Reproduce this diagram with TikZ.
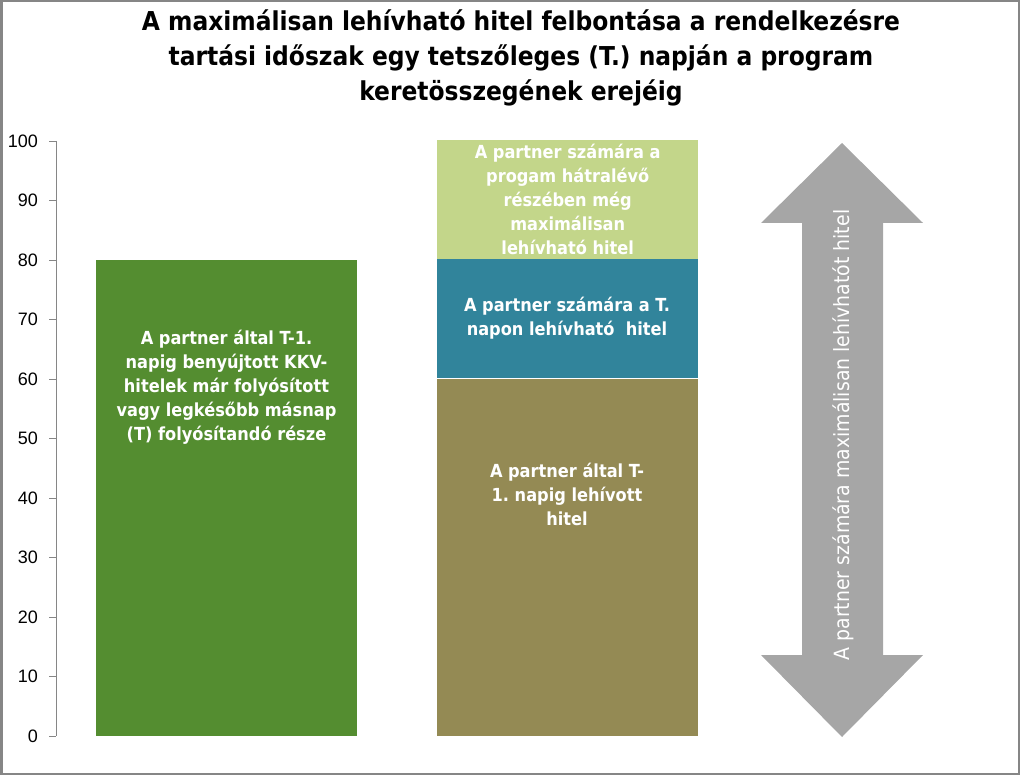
\documentclass[tikz,border=0pt]{standalone}
\usepackage{fontspec}
\setmainfont{DejaVu Sans Condensed}
\newfontfamily\axisfont{Liberation Sans}
\usetikzlibrary{positioning}
\frenchspacing

\definecolor{barGreen}{RGB}{84,141,48}
\definecolor{barLight}{RGB}{195,214,138}
\definecolor{barTeal}{RGB}{49,132,155}
\definecolor{barOlive}{RGB}{148,138,84}
\definecolor{arrowGray}{RGB}{166,166,166}
\definecolor{frameGray}{RGB}{134,134,134}

\begin{document}
\begin{tikzpicture}[x = 1pt, y = -1pt,
        bar/.style = {inner sep = 0, minimum width = 261pt, anchor = south west},
        barlabel/.style = {inner sep = 0, text = white, align = center,
            font = \bfseries\fontsize{18}{24}\selectfont}]
        \useasboundingbox (0,0) rectangle (1020,775);

        \draw [frameGray, line width = 2.5pt]
        (1.25,1.25) rectangle (1018.75,773.75);

        % title
        \node (title) [align = center, font = \bfseries\fontsize{26}{35}\selectfont]
        at (521,58) {A maximálisan lehívható hitel felbontása a rendelkezésre\\
            tartási időszak egy tetszőleges (T.) napján a program\\
            keretösszegének erejéig};

        % axis
        \draw [frameGray]
        (56,141) -- (56,736);
        \foreach \v in {0,10,...,100} {
            \draw [frameGray] (49,736-5.95*\v) -- (56,736-5.95*\v);
            \node [left, inner sep = 0, font = \axisfont\fontsize{18}{18}\selectfont]
            at (38,736-5.95*\v) {\v};
        }

        % bars
        \node (submitted) [bar, fill = barGreen, minimum height = 476pt] at (96,736) {};
        \node (drawn) [bar, fill = barOlive, minimum height = 357pt] at (437,736) {};
        \node (today) [bar, fill = barTeal, minimum height = 119pt, above = 0pt of drawn.north, anchor = south] {};
        \node (rest) [bar, fill = barLight, minimum height = 119pt, above = 0pt of today.north, anchor = south] {};

        \node [barlabel] at (226.5,387) {A partner által T-1.\\ napig benyújtott KKV-\\ hitelek már folyósított\\ vagy legkésőbb másnap\\ (T) folyósítandó része};
        \node [barlabel] at (rest.center) {A partner számára a\\ progam hátralévő\\ részében még\\ maximálisan\\ lehívható hitel};
        \node [barlabel] at (567,318) {A partner számára a T.\\ napon lehívható\ \ hitel};
        \node [barlabel] at (567,494) {A partner által T-\\ 1. napig lehívott\\ hitel};

        % arrow
        \fill [arrowGray]
        (842,143) -- (923,223) -- (883,223) -- (883,655) -- (923,655) -- (842,737)
        -- (761,655) -- (802,655) -- (802,223) -- (761,223) -- cycle;
        \node (span) [rotate = 90, text = white, inner sep = 0, font = \fontsize{21}{21}\selectfont]
        at (843,435) {A partner számára maximálisan lehívhatót hitel};
    \end{tikzpicture}
\end{document}
